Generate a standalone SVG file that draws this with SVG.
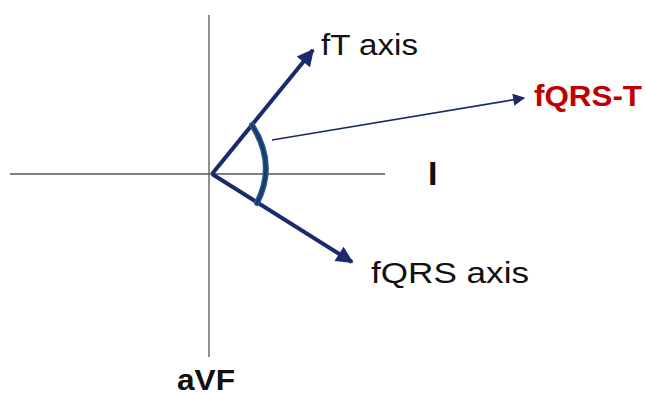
<svg xmlns="http://www.w3.org/2000/svg" width="646" height="397" viewBox="0 0 646 397">
<defs>
<style>
.axis{stroke:#555;stroke-width:1.3;fill:none}
.vec{stroke:#1a2a6c;stroke-width:4;fill:none}
.thin{stroke:#1a2a6c;stroke-width:1.6;fill:none}
.lbl{font-family:"Liberation Sans",Arial,sans-serif;font-size:29px;fill:#111}
.bold{font-weight:bold}
</style>
<marker id="ahBig" viewBox="0 0 10 10" refX="9" refY="5" markerUnits="userSpaceOnUse" markerWidth="20" markerHeight="17" orient="auto">
<path d="M0,0 L10,5 L0,10 z" fill="#1a2a6c"/>
</marker>
<marker id="ahSmall" viewBox="0 0 10 10" refX="9" refY="5" markerUnits="userSpaceOnUse" markerWidth="16" markerHeight="12" orient="auto">
<path d="M0,0 L10,5 L0,10 z" fill="#1a2a6c"/>
</marker>
</defs>
<g id="axes">
<line class="axis" x1="209" y1="15" x2="209" y2="357"/>
<line class="axis" x1="10" y1="174" x2="385" y2="174"/>
</g>
<g id="connectors">
<line class="vec" x1="212" y1="174" x2="313" y2="50" marker-end="url(#ahBig)"/>
<line class="vec" x1="212" y1="174" x2="352" y2="262" marker-end="url(#ahBig)"/>
<line class="thin" x1="272" y1="140" x2="524" y2="98" marker-end="url(#ahSmall)"/>
</g>
<g id="angle-arc">
<path d="M252,125 Q277,164 257,203" fill="none" stroke="#2a5a8c" stroke-width="6" stroke-linecap="round"/>
<path d="M252,125 Q277,164 257,203" fill="none" stroke="#1a3a6c" stroke-width="3" stroke-linecap="round"/>
</g>
<g id="node-fT"><text class="lbl" x="321" y="55" textLength="97" lengthAdjust="spacingAndGlyphs">fT axis</text></g>
<g id="node-fQRST"><text class="lbl bold" x="534" y="106" style="fill:#c00000" textLength="108" lengthAdjust="spacingAndGlyphs">fQRS-T</text></g>
<g id="node-I"><text class="lbl bold" x="428" y="185" style="font-size:34px">I</text></g>
<g id="node-fQRS"><text class="lbl" x="371" y="283" textLength="158" lengthAdjust="spacingAndGlyphs">fQRS axis</text></g>
<g id="node-aVF"><text class="lbl bold" x="177" y="390" textLength="58" lengthAdjust="spacingAndGlyphs">aVF</text></g>
</svg>
